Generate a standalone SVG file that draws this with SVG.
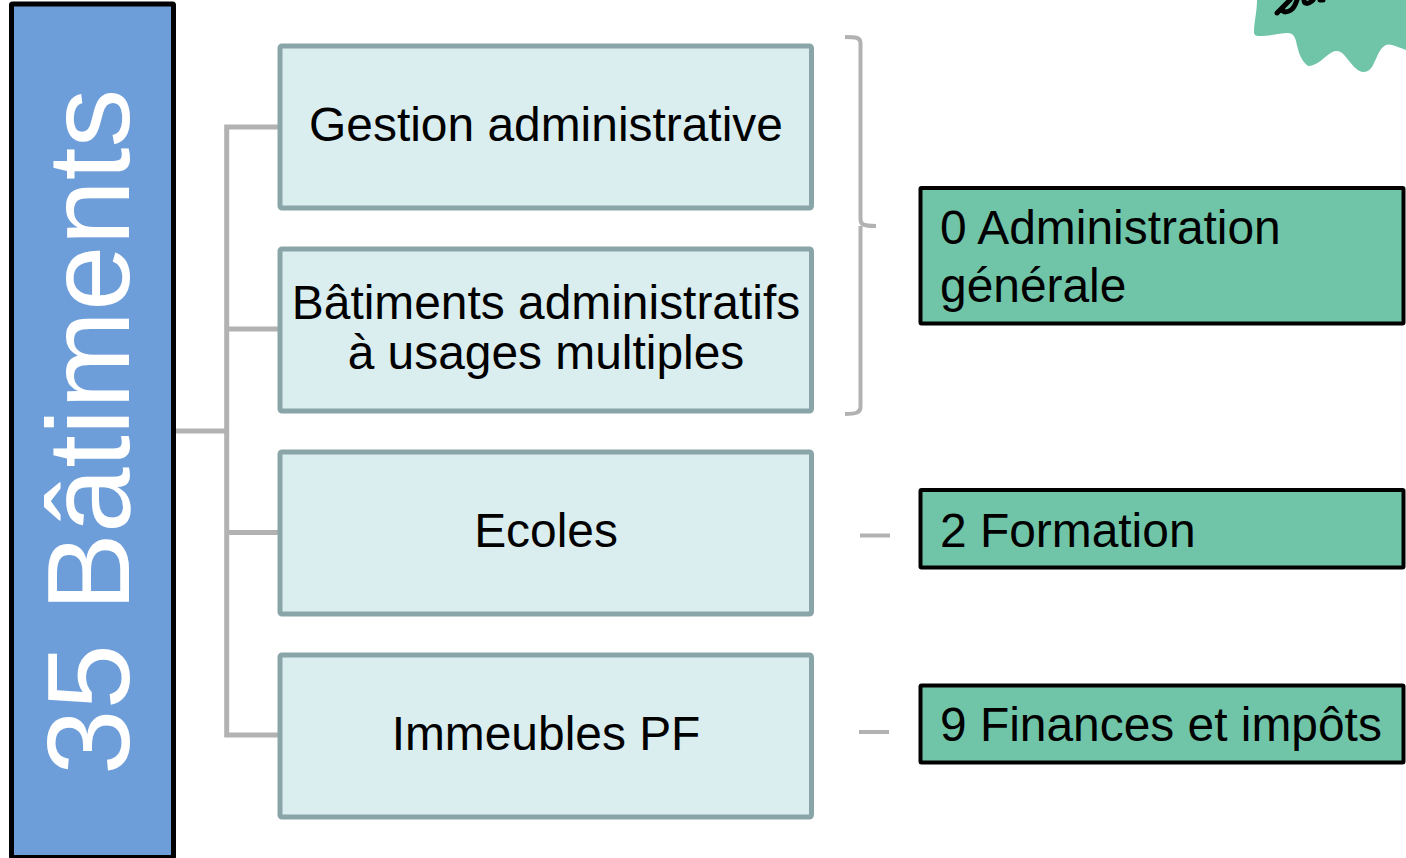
<svg xmlns="http://www.w3.org/2000/svg" width="1406" height="858" viewBox="0 0 1406 858">
<style>
text{font-family:"Liberation Sans",Arial,sans-serif;fill:#000}
.n{fill:#daedef;stroke:#8aa5a7;stroke-width:5}
.g{fill:#70c5a9;stroke:#000;stroke-width:4}
.t{font-size:47.9px;text-anchor:middle}
.l{font-size:47.9px}
.c{fill:none;stroke:#b2b2b2;stroke-width:5}
.b{fill:none;stroke:#b2b2b2;stroke-width:4}
</style>
<rect width="1406" height="858" fill="#fff"/>
<path id="badge" fill="#70c5a9" d="M1257 0C1257 12 1254 22 1254 32C1254 35 1256 36 1259 36C1270 36 1280 33 1288 33C1293 33 1295 37 1296 41C1298 50 1300 60 1308 66C1312 66 1316 64 1319 62C1325 58 1331 51 1336 51C1340 51 1343 53 1345 56C1351 63 1357 72 1363 72C1367 72 1370 70 1372 67C1376 60 1379 50 1383 47C1386 44 1389 44 1392 45C1396 46 1401 48 1406 50L1406 0Z"/>
<path d="M1277 13C1282 8 1287 3 1290 0M1283 10C1283 13 1288 12 1291 10C1294 8 1296 3 1297 0M1304 0C1304 4 1308 5 1313 0M1320 0L1323 0" fill="none" stroke="#000" stroke-width="5" stroke-linecap="round"/>
<g id="connectors">
<path class="c" d="M176 431H226.700M226.700 124.500V737.500M224.500 127H279M224.500 329H279M224.500 532.500H279M224.500 735H279"/>
<path class="b" d="M845 37C855 37 860.500 37 860.500 43V219C860.500 224 862 226 876 226M860.500 226C860.500 226 860.500 228 860.500 232V407C860.500 413 855 414 845 414"/>
<path class="b" d="M860 535.500H890M859 732H889"/>
</g>
<g id="main"><rect x="11.500" y="4" width="162" height="853.500" rx="1" fill="#6d9eda" stroke="#000" stroke-width="5"/>
<text transform="translate(129 775) rotate(-90)" font-size="117.600" style="fill:#fff">35 Bâtiments</text></g>
<g id="n1"><rect class="n" x="280" y="46" width="531.500" height="162" rx="2"/><text class="t" x="546" y="141">Gestion administrative</text></g>
<g id="n2"><rect class="n" x="280" y="249" width="531.500" height="162" rx="2"/><text class="t" x="546" y="319">Bâtiments administratifs</text><text class="t" x="546" y="369">à usages multiples</text></g>
<g id="n3"><rect class="n" x="280" y="452" width="531.500" height="162" rx="2"/><text class="t" x="546" y="547">Ecoles</text></g>
<g id="n4"><rect class="n" x="280" y="655" width="531.500" height="162" rx="2"/><text class="t" x="546" y="750">Immeubles PF</text></g>
<g id="g1"><rect class="g" x="920.500" y="188" width="483" height="135.500" rx="1"/><text class="l" x="940" y="244">0 Administration</text><text class="l" x="940" y="302">générale</text></g>
<g id="g2"><rect class="g" x="920.500" y="490" width="483" height="77.500" rx="1"/><text class="l" x="940" y="547">2 Formation</text></g>
<g id="g3"><rect class="g" x="920.500" y="685.500" width="483" height="77" rx="1"/><text class="l" x="940" y="741">9 Finances et impôts</text></g>
</svg>
